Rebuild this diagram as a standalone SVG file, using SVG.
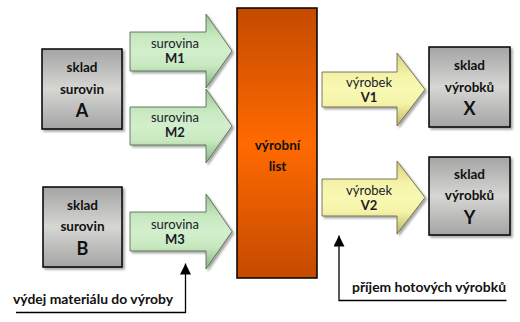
<svg xmlns="http://www.w3.org/2000/svg" width="520" height="322" viewBox="0 0 520 322">
<defs>
<linearGradient id="gGray" x1="0" y1="0" x2="0" y2="1">
<stop offset="0" stop-color="#a4a4a4"/>
<stop offset="0.5" stop-color="#d6d6d3"/>
<stop offset="1" stop-color="#a4a4a4"/>
</linearGradient>
<linearGradient id="gOrange" x1="0" y1="0" x2="0" y2="1">
<stop offset="0" stop-color="#c44a00"/>
<stop offset="0.5" stop-color="#ff6a00"/>
<stop offset="1" stop-color="#c44a00"/>
</linearGradient>
<linearGradient id="gGreen" x1="0" y1="0" x2="0" y2="1">
<stop offset="0" stop-color="#9cc796"/>
<stop offset="0.3" stop-color="#c8e9c0"/>
<stop offset="0.5" stop-color="#d2efcb"/>
<stop offset="0.7" stop-color="#c8e9c0"/>
<stop offset="1" stop-color="#86b380"/>
</linearGradient>
<linearGradient id="gYellow" x1="0" y1="0" x2="0" y2="1">
<stop offset="0" stop-color="#d6d07e"/>
<stop offset="0.3" stop-color="#f4f3a8"/>
<stop offset="0.5" stop-color="#f9f9b4"/>
<stop offset="0.7" stop-color="#f4f3a8"/>
<stop offset="1" stop-color="#bcb466"/>
</linearGradient>
<filter id="sh" x="-10%" y="-10%" width="130%" height="130%">
<feDropShadow dx="2" dy="2" stdDeviation="1.2" flood-color="#000" flood-opacity="0.35"/>
</filter>
<marker id="ah" viewBox="0 0 10 10" refX="10" refY="5" markerWidth="11" markerHeight="11" markerUnits="userSpaceOnUse" orient="auto">
<path d="M0,0 L10,5 L0,10 Z" fill="#000"/>
</marker>
</defs>
<style>
.box{fill:url(#gGray);stroke:#000;stroke-width:1.5;filter:url(#sh)}
.main{fill:url(#gOrange);stroke:#000;stroke-width:1.5}
.ga{fill:url(#gGreen);stroke:#4d5e49;stroke-width:0.8;filter:url(#sh)}
.ya{fill:url(#gYellow);stroke:#5e5c3c;stroke-width:0.8;filter:url(#sh)}
text{font-family:Lato,"Open Sans","Liberation Sans",sans-serif;fill:#111;text-anchor:middle}
.b{font-weight:bold;font-size:13.5px}
.big{font-weight:bold;font-size:18px}
.r{font-size:13px;fill:#1a1a2a}
.rb{font-weight:bold;font-size:13px;fill:#1a1a2a}
.lbl{font-weight:bold;font-size:13px;text-anchor:start}
.con{stroke:#000;stroke-width:1.3;fill:none}
</style>
<g id="skladA">
<rect class="box" x="42" y="49" width="80" height="80"/>
<text class="b" x="82" y="71.5">sklad</text>
<text class="b" x="82" y="93.5">surovin</text>
<text class="big" x="82" y="117">A</text>
</g>
<g id="skladB">
<rect class="box" x="43" y="187" width="79" height="80"/>
<text class="b" x="82.5" y="209.5">sklad</text>
<text class="b" x="82.5" y="230.5">surovin</text>
<text class="big" x="82.5" y="255">B</text>
</g>
<g id="surovinaM1">
<path class="ga" d="M130,32 H206 V14 L232,51 L206,88 V71 H130 Z"/>
<text class="r" x="175" y="47.5">surovina</text>
<text class="rb" x="175" y="62.5">M1</text>
</g>
<g id="surovinaM2">
<path class="ga" d="M130,107 H206 V89 L232,126 L206,163 V145 H130 Z"/>
<text class="r" x="175" y="121.5">surovina</text>
<text class="rb" x="175" y="136.5">M2</text>
</g>
<g id="surovinaM3">
<path class="ga" d="M130,212 H206 V194 L232,231.5 L206,269 V251 H130 Z"/>
<text class="r" x="175" y="229">surovina</text>
<text class="rb" x="175" y="243.5">M3</text>
</g>
<g id="vyrobniList">
<rect class="main" x="237" y="8" width="80" height="270"/>
<text class="b" x="277.5" y="150">výrobní</text>
<text class="b" x="277.5" y="171">list</text>
</g>
<g id="vyrobekV1">
<path class="ya" d="M322,72 H397 V53 L425,89.5 L397,126 V107 H322 Z"/>
<text class="r" x="369" y="86.5">výrobek</text>
<text class="rb" x="369" y="101.5">V1</text>
</g>
<g id="vyrobekV2">
<path class="ya" d="M322,179 H397 V161 L425,197.5 L397,234 V216 H322 Z"/>
<text class="r" x="369" y="195">výrobek</text>
<text class="rb" x="369" y="209.5">V2</text>
</g>
<g id="skladX">
<rect class="box" x="429" y="47" width="81" height="80"/>
<text class="b" x="469.5" y="69.5">sklad</text>
<text class="b" x="469.5" y="91.5">výrobků</text>
<text class="big" x="469.5" y="115">X</text>
</g>
<g id="skladY">
<rect class="box" x="429" y="157" width="81" height="78"/>
<text class="b" x="469.5" y="178.5">sklad</text>
<text class="b" x="469.5" y="199.5">výrobků</text>
<text class="big" x="469.5" y="224">Y</text>
</g>
<g id="connectors">
<path class="con" d="M16,312.5 H185.5 V263.5" marker-end="url(#ah)"/>
<path class="con" d="M506.5,300.5 H339 V235.5" marker-end="url(#ah)"/>
</g>
<g id="labels">
<text class="lbl" x="13" y="304" textLength="160" lengthAdjust="spacingAndGlyphs">výdej materiálu do výroby</text>
<text class="lbl" x="352" y="292" textLength="154" lengthAdjust="spacingAndGlyphs">příjem hotových výrobků</text>
</g>
</svg>
